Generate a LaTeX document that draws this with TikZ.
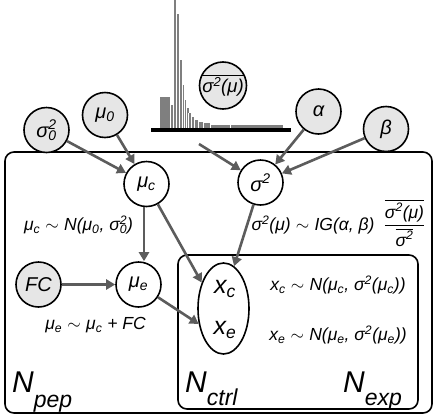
\documentclass[tikz,border=0pt]{standalone}
\usepackage{amsmath}
\usepackage{fontspec}
\setmainfont{Liberation Sans}
\usetikzlibrary{arrows.meta,shapes.geometric}
\definecolor{arrowgray}{HTML}{5C5C5C}
\definecolor{obsfill}{HTML}{E6E6E6}
\definecolor{histgray}{HTML}{7F7F7F}
\newcommand{\sqz}{σ\rlap{\textsuperscript{2}}\textsubscript{0}}
\newcommand{\tsim}{\hspace{0.3em}$\sim$\hspace{0.3em}}
\tikzset{
  varnode/.style={circle, draw=black, line width=1.6pt, minimum size=45pt, inner sep=0pt,
    font=\itshape\fontsize{20}{24}\selectfont},
  obsnode/.style={varnode, fill=obsfill},
  latnode/.style={varnode, fill=white},
  arr/.style={draw=arrowgray, line width=2.6pt, -{Triangle[length=9pt,width=10pt]}},
  plate/.style={draw=black, line width=1.6pt, rounded corners=9pt},
  eqtext/.style={inner sep=0pt, font=\itshape\fontsize{17.5}{21}\selectfont},
  bigtext/.style={inner sep=0pt, anchor=base west, font=\itshape\fontsize{30}{34}\selectfont},
  xtext/.style={inner sep=0pt, font=\itshape\fontsize{25}{28}\selectfont},
}
\begin{document}
\begin{tikzpicture}[x=1pt,y=-1pt]
\useasboundingbox (0,0) rectangle (435,418);
% histogram
\foreach \xa/\xb/\yt in {159.3/170/97, 170/172.7/105, 172.7/175.7/0, 175.7/179/14, 179/181.7/60,
  181.7/184/85, 184/186.3/100, 186.3/188.6/108, 188.6/191.3/113, 191.3/194.3/117,
  194.3/198/119.5, 198/203/121.5, 203/210/123, 210/230/124.5, 230/283/125}{
  \fill[histgray] (\xa,\yt) rectangle (\xb,128);
  \draw[white, line width=0.4pt] (\xa,\yt) -- (\xa,128);
}
\fill[black] (151,127.7) rectangle (291,131.7);
\node[obsnode, font=\itshape\fontsize{18.5}{22}\selectfont] (sbar) at (223,85.5) {$\overline{\text{σ\textsuperscript{2}(μ)}}$};
\coordinate (hist) at (199,144);
% plates
\draw[plate] (5,152) rectangle (432,413);
\draw[plate] (178,255) rectangle (418,409);
% nodes
\node[obsnode] (s0) at (46.5,130) {\sqz};
\node[obsnode] (mu0) at (105,115) {μ\textsubscript{0}};
\node[obsnode] (alpha) at (318.5,111.5) {α};
\node[obsnode] (beta) at (386,129) {β};
\node[latnode] (muc) at (146.5,184) {μ\textsubscript{c}};
\node[latnode] (sig2) at (260.5,182.5) {σ\textsuperscript{2}};
\node[obsnode] (fc) at (38.5,284.5) {FC};
\node[latnode] (mue) at (138.5,284.5) {μ\textsubscript{e}};
\node[ellipse, draw=black, line width=1.6pt, fill=white, minimum width=51pt, minimum height=91pt, inner sep=0pt] (x) at (223.5,308.5) {};
\node[xtext] (xc) at (225,289) {x\textsubscript{c}};
\node[xtext] (xe) at (225,330) {x\textsubscript{e}};
% equations
\node[eqtext] (eq1) at (78.5,225) {μ\textsubscript{c}\tsim N(μ\textsubscript{0}, \sqz)};
\node[eqtext] (eq2) at (313,225) {σ\textsuperscript{2}(μ)\tsim IG(α, β)};
\node[eqtext] (eq3) at (404.5,223) {$\dfrac{\overline{\text{σ\textsuperscript{2}(μ)}}}{\overline{\text{σ\textsuperscript{2}}}}$};
\node[eqtext] (eq4) at (95.5,325) {μ\textsubscript{e}\tsim μ\textsubscript{c} + FC};
\node[eqtext] (eq5) at (338,285) {x\textsubscript{c}\tsim N(μ\textsubscript{c}, σ\textsuperscript{2}(μ\textsubscript{c}))};
\node[eqtext] (eq6) at (338,335) {x\textsubscript{e}\tsim N(μ\textsubscript{e}, σ\textsuperscript{2}(μ\textsubscript{e}))};
% plate labels
\node[bigtext] (npep) at (12,392) {N\raisebox{-15pt}{\fontsize{23}{26}\selectfont pep}};
\node[bigtext] (nctrl) at (185,392) {N\raisebox{-13pt}{\fontsize{23}{26}\selectfont ctrl}};
\node[bigtext] (nexp) at (343,392) {N\raisebox{-13pt}{\fontsize{23}{26}\selectfont exp}};
% arrows
\coordinate (vx) at (144,0);
\draw[arr] (s0) -- (muc);
\draw[arr] (mu0) -- (muc);
\draw[arr] (hist) -- (sig2);
\draw[arr] (alpha) -- (sig2);
\draw[arr] (beta) -- (sig2);
\draw[arr] (muc.south -| vx) -- (mue.north -| vx);
\draw[arr] (fc) -- (mue);
\draw[arr] (muc) -- (x.130);
\draw[arr] (sig2) -- (x.76);
\draw[arr] (mue) -- (x.212);
\end{tikzpicture}
\end{document}
